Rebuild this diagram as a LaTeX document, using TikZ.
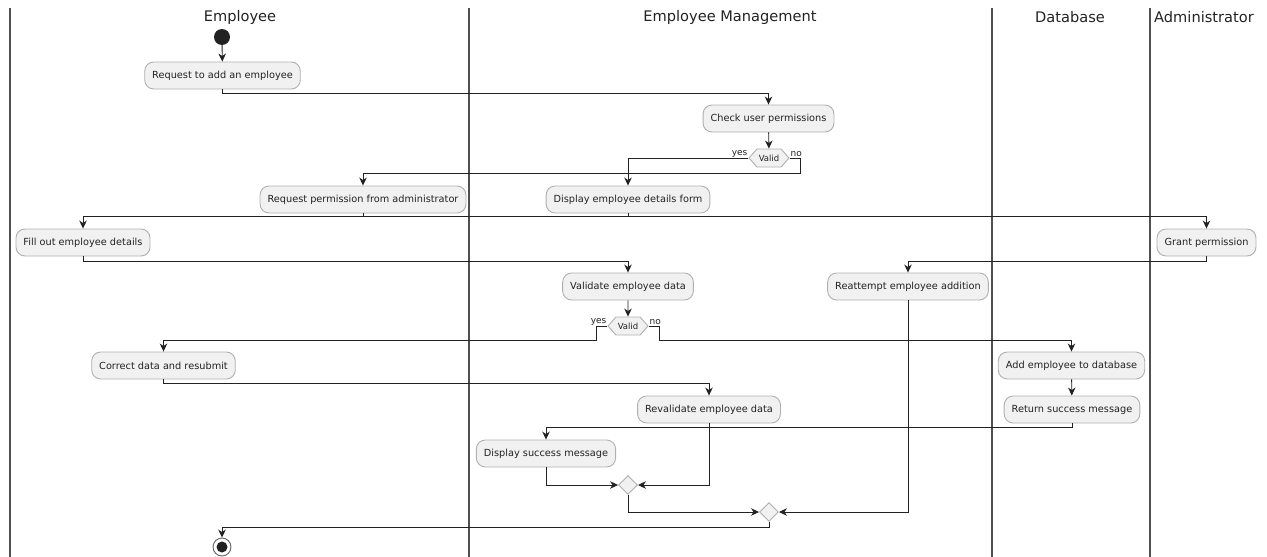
\documentclass[tikz,border=0pt]{standalone}
\usepackage{fontspec}
\setmainfont{DejaVu Sans}
\usetikzlibrary{arrows.meta,shapes.symbols,shapes.geometric}
\definecolor{boxfill}{HTML}{F1F1F1}
\definecolor{boxline}{HTML}{B0B0B0}
\definecolor{ink}{HTML}{222222}
\definecolor{lane}{HTML}{505050}

\begin{document}
\begin{tikzpicture}[x=1pt,y=-1pt,
  act/.style={draw=boxline, fill=boxfill, line width=0.9pt, rounded corners=9pt,
    minimum height=27pt, inner xsep=7.5pt, inner ysep=0pt,
    font=\fontsize{9.76}{11}\selectfont, text=ink},
  hexbox/.style={signal, signal to=west and east, signal pointer angle=97,
    draw=boxline, fill=boxfill, line width=0.9pt, minimum height=18pt,
    minimum width=40pt, inner xsep=1pt, inner ysep=0pt,
    font=\fontsize{8.5}{9}\selectfont, text=ink},
  merge/.style={diamond, aspect=1, draw=boxline, fill=boxfill, line width=0.9pt,
    minimum width=19pt, minimum height=19pt, inner sep=0pt},
  flow/.style={draw=ink, line width=0.9pt,
    -{Stealth[length=8pt,width=7.5pt,inset=2.5pt]}},
  lbl/.style={font=\fontsize{9}{10}\selectfont, text=ink, inner sep=0.8pt},
  head/.style={font=\fontsize{14.6}{16}\selectfont, text=ink},
  laneline/.style={draw=lane, line width=1.4pt}]

\useasboundingbox (0,0) rectangle (1267,557);

% swimlane separators
\draw[laneline] (10,8) -- (10,557);
\draw[laneline] (469,8) -- (469,557);
\draw[laneline] (992,8) -- (992,557);
\draw[laneline] (1150,8) -- (1150,557);

% swimlane titles
\node[head] (hemp) at (240,17) {Employee};
\node[head] (hmgmt) at (730,17) {Employee Management};
\node[head] (hdb) at (1070,17) {Database};
\node[head, anchor=west, inner xsep=0pt] (hadm) at (1154,17) {Administrator};

% start and end
\node[circle, fill=ink, minimum size=16pt, inner sep=0pt] (start) at (222,37) {};
\node[circle, draw=ink!70, fill=white, line width=0.9pt, minimum size=18pt, inner sep=0pt] (stop) at (222,547) {};
\node[circle, fill=ink, minimum size=11pt, inner sep=0pt] (stopdot) at (stop.center) {};

% activities
\node[act] (req) at (222.5,75.5) {Request to add an employee};
\node[act] (chk) at (768.5,118.5) {Check user permissions};
\node[hexbox] (v1) at (769,158) {Valid};
\node[act] (perm) at (363,199.5) {Request permission from administrator};
\node[act] (form) at (628,199.5) {Display employee details form};
\node[act] (fill) at (83,242.5) {Fill out employee details};
\node[act] (grant) at (1206.5,242.5) {Grant permission};
\node[act] (valid) at (628,286.5) {Validate employee data};
\node[act] (retry) at (908,286.5) {Reattempt employee addition};
\node[hexbox] (v2) at (628,326) {Valid};
\node[act] (fix) at (163.5,365.5) {Correct data and resubmit};
\node[act] (add) at (1071.5,365.5) {Add employee to database};
\node[act] (reval) at (709,409.5) {Revalidate employee data};
\node[act] (ret) at (1072,409.5) {Return success message};
\node[act] (ok) at (546,453.5) {Display success message};
\node[merge] (m1) at (628,485) {};
\node[merge] (m2) at (769,512) {};

% branch labels
\node[lbl, anchor=south east] (y1) at (v1.west) {yes};
\node[lbl, anchor=south west] (n1) at (v1.east) {no};
\node[lbl, anchor=south east] (y2) at (v2.west) {yes};
\node[lbl, anchor=south west] (n2) at (v2.east) {no};

% control flow
\draw[flow] (start) -- (req);
\draw[flow] (req.south) -- ++(0,4) -| (chk.north);
\draw[flow] (chk) -- (v1);
\draw[flow] (v1.west) -| (form.north);
\draw[flow] (v1.east) -- ++(11,0) -- ++(0,15) -| (perm.north);
\draw[flow] (perm.south) -- ++(0,3) -| (grant.north);
\draw[flow] (form.south) -- ++(0,3) -| (fill.north);
\draw[flow] (fill.south) -- ++(0,4.5) -| (valid.north);
\draw[flow] (grant.south) -- ++(0,4.5) -| (retry.north);
\draw[flow] (valid) -- (v2);
\draw[flow] (v2.west) -- ++(-11,0) -- ++(0,14) -| (fix.north);
\draw[flow] (v2.east) -- ++(11,0) -- ++(0,14) -| (add.north);
\draw[flow] (add) -- (ret);
\draw[flow] (fix.south) -- ++(0,4) -| (reval.north);
\draw[flow] (ret.south) -- ++(0,4) -| (ok.north);
\draw[flow] (ok.south) |- (m1.west);
\draw[flow] (reval.south) |- (m1.east);
\draw[flow] (m1.south) |- (m2.west);
\draw[flow] (retry.south) |- (m2.east);
\draw[flow] (m2.south) -- ++(0,5) -| (stop.north);
\end{tikzpicture}
\end{document}
